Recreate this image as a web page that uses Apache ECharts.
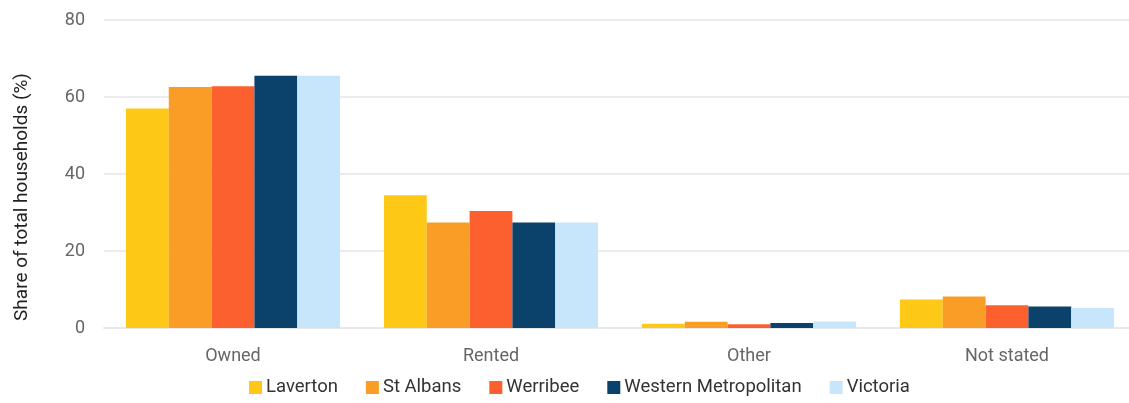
<!DOCTYPE html>
<html>
<head>
<meta charset="utf-8">
<script src="https://cdn.jsdelivr.net/npm/echarts@6/dist/echarts.min.js"></script>
<style>
  html, body { margin: 0; padding: 0; background: #fff; }
  #chart { width: 1129px; height: 403px; }
</style>
</head>
<body>
<div id="chart"></div>
<script>
const categories = ["Owned", "Rented", "Other", "Not stated"];
const laverton = [57.0, 34.5, 1.1, 7.4];
const stAlbans = [62.6, 27.4, 1.6, 8.2];
const werribee = [62.8, 30.4, 1.0, 5.9];
const westernMetro = [65.5, 27.4, 1.3, 5.6];
const victoria = [65.5, 27.4, 1.7, 5.2];
const yTicks = [0, 20, 40, 60, 80];

const fontFamily = "Roboto, sans-serif";

const seriesDefs = [
  { name: "Laverton", data: laverton, color: "#FDC816" },
  { name: "St Albans", data: stAlbans, color: "#FA9D26" },
  { name: "Werribee", data: werribee, color: "#FC602E" },
  { name: "Western Metropolitan", data: westernMetro, color: "#0B426C" },
  { name: "Victoria", data: victoria, color: "#C7E6FC" },
];

const chart = echarts.init(document.getElementById("chart"));
chart.setOption({
  animation: false,
  textStyle: { fontFamily: fontFamily },
  grid: { left: 104, right: -7, top: 20, bottom: 75, outerBoundsMode: "none" },
  legend: {
    bottom: 1,
    left: 244,
    itemWidth: 13,
    itemHeight: 13,
    itemGap: 28,
    icon: "rect",
    textStyle: { color: "#333", fontSize: 18.5, fontFamily: fontFamily, padding: [0, 0, 0, -1] },
  },
  xAxis: {
    type: "category",
    data: categories,
    axisLine: { lineStyle: { color: "#e8e8e8", width: 2 } },
    axisTick: { show: false },
    axisLabel: { color: "#666", fontSize: 18, margin: 19, fontFamily: fontFamily },
  },
  yAxis: {
    type: "value",
    min: yTicks[0],
    max: yTicks[yTicks.length - 1],
    interval: 20,
    name: "Share of total households (%)",
    nameLocation: "middle",
    nameGap: 72,
    nameTextStyle: { color: "#222", fontSize: 19, fontFamily: fontFamily, padding: [0, 0, 0, -46] },
    axisLine: { show: false },
    axisTick: { show: false },
    axisLabel: { color: "#666", fontSize: 18, margin: 19, fontFamily: fontFamily },
    splitLine: { lineStyle: { color: "#ececec", width: 2 } },
  },
  series: seriesDefs.map((s) => ({
    name: s.name,
    type: "bar",
    data: s.data,
    barGap: "0%",
    barCategoryGap: "17%",
    itemStyle: { color: s.color },
  })),
});
</script>
</body>
</html>
